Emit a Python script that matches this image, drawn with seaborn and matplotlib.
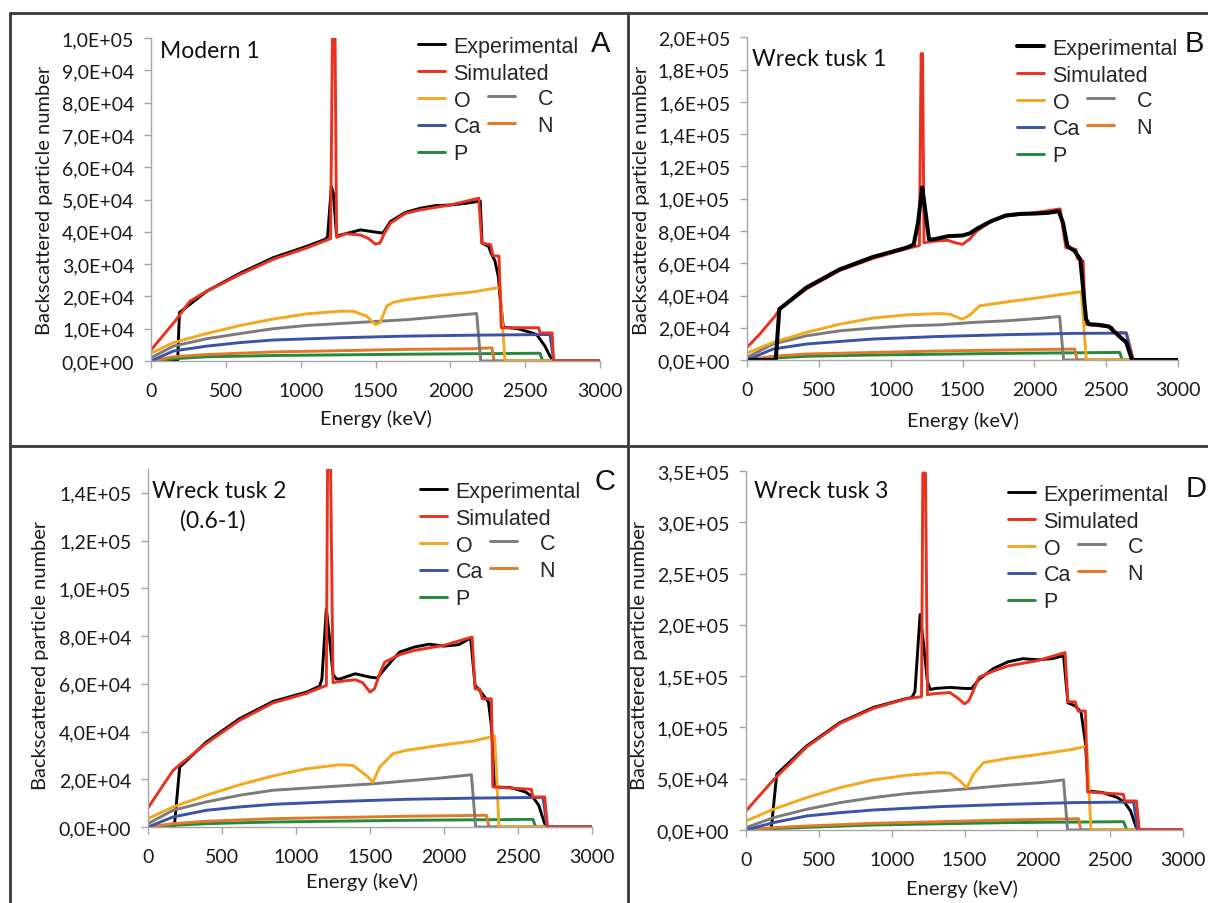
# RBS spectra of ivory samples: experimental vs simulated, with element contributions
# Four panels (A-D), Excel-like styling

import numpy as np
import seaborn as sns
import matplotlib.pyplot as plt
from matplotlib.lines import Line2D
from matplotlib.ticker import FuncFormatter, MultipleLocator


# Data (energy keV, backscattered counts) ........................................................

# Panel A - Modern 1
a_exp = [(0, 0), (178, 0), (190, 15000), (372, 21600), (595, 27200), (817, 32000), (1040, 35500),
         (1165, 37700), (1180, 38500), (1205, 54000), (1218, 52000), (1240, 38700), (1300, 39400),
         (1400, 40600), (1500, 39900), (1550, 39600), (1600, 43200), (1700, 46000), (1800, 47300),
         (1900, 48100), (2000, 48300), (2100, 48800), (2200, 49500), (2212, 36500), (2255, 35500),
         (2276, 33000), (2298, 31000), (2321, 26000), (2332, 20000), (2354, 10500), (2450, 10000),
         (2510, 9200), (2577, 8200), (2632, 4600), (2666, 1500), (2690, 0), (3000, 0)]
a_sim = [(0, 3400), (160, 12300), (260, 18500), (372, 21600), (595, 26800), (817, 31500),
         (1040, 35000), (1200, 37900), (1214, 110000), (1228, 110000), (1240, 38300), (1300, 39400),
         (1400, 39000), (1450, 38000), (1500, 36200), (1530, 36500), (1560, 39600), (1600, 42700),
         (1700, 45700), (1800, 46800), (2000, 48300), (2190, 50400), (2210, 36500), (2270, 36000),
         (2285, 32600), (2325, 32500), (2340, 10300), (2590, 10300), (2600, 8700), (2680, 8700),
         (2690, 0), (3000, 0)]
a_o = [(0, 2400), (150, 5700), (372, 8500), (595, 11000), (817, 13000), (1040, 14600), (1263, 15400),
       (1352, 15400), (1440, 13900), (1500, 11300), (1530, 11800), (1575, 17000), (1620, 18200),
       (1708, 19000), (1931, 20300), (2154, 21400), (2332, 22800), (2365, 0), (3000, 0)]
a_c = [(0, 1000), (150, 4600), (372, 6900), (595, 8500), (817, 10000), (1040, 11000), (1263, 11600),
       (1485, 12200), (1708, 12800), (1931, 13700), (2176, 14700), (2203, 0), (3000, 0)]
a_ca = [(0, 0), (150, 3100), (372, 4600), (595, 5700), (817, 6500), (1263, 7200), (1708, 7700),
        (2154, 8000), (2666, 8200), (2690, 0), (3000, 0)]
a_n = [(0, 0), (150, 1300), (372, 2000), (817, 2800), (1263, 3200), (1708, 3600), (2154, 3800),
       (2278, 4100), (2292, 0), (3000, 0)]
a_p = [(0, 0), (150, 700), (372, 1300), (817, 1700), (1708, 2100), (2599, 2400), (2617, 0), (3000, 0)]

# Panel B - Wreck tusk 1
b_exp = [(0, 0), (200, 0), (225, 31500), (413, 44900), (645, 56200), (877, 63900), (1109, 69600),
         (1160, 71500), (1190, 85000), (1220, 107000), (1245, 90000), (1267, 74800), (1300, 74800),
         (1400, 76800), (1500, 77200), (1550, 78500), (1600, 81400), (1700, 86100), (1800, 89600),
         (1900, 90600), (2000, 90800), (2100, 91300), (2170, 92300), (2200, 85000), (2230, 70700),
         (2280, 67600), (2320, 62400), (2340, 43900), (2360, 25300), (2380, 22200), (2450, 21800),
         (2520, 20800), (2550, 18100), (2600, 14000), (2640, 10900), (2680, 0), (3000, 0)]
b_sim = [(0, 7800), (88, 16000), (193, 27000), (227, 31500), (413, 44000), (645, 55500), (877, 63000),
         (1109, 69000), (1200, 71000), (1212, 190000), (1222, 190000), (1232, 72700), (1300, 73700),
         (1400, 74200), (1450, 72700), (1500, 71700), (1550, 75000), (1600, 80000), (1700, 86100),
         (1800, 89200), (2000, 91300), (2180, 93700), (2200, 81000), (2220, 69600), (2290, 68600),
         (2300, 62800), (2340, 61400), (2355, 22200), (2540, 20200), (2560, 17100), (2640, 16800),
         (2690, 0), (3000, 0)]
b_o = [(0, 4300), (181, 10900), (413, 17100), (645, 22200), (877, 26000), (1109, 28000), (1341, 28800),
       (1411, 28400), (1499, 25300), (1550, 27800), (1619, 33600), (1805, 36000), (2037, 38700),
       (2327, 42400), (2362, 0), (3000, 0)]
b_c = [(0, 1600), (181, 9900), (413, 15000), (645, 18100), (877, 19800), (1109, 21200), (1341, 21800),
       (1573, 23300), (1805, 24300), (2037, 25800), (2176, 27000), (2204, 0), (3000, 0)]
b_ca = [(0, 0), (181, 6800), (413, 9900), (645, 11500), (877, 13000), (1341, 14600), (1805, 15700),
        (2269, 16500), (2640, 16700), (2682, 0), (3000, 0)]
b_n = [(0, 0), (181, 2300), (413, 3700), (877, 4700), (1341, 5600), (1805, 6200), (2281, 6800),
       (2297, 0), (3000, 0)]
b_p = [(0, 0), (181, 1200), (413, 2300), (877, 3100), (1805, 4100), (2594, 4700), (2612, 0), (3000, 0)]

# Panel C - Wreck tusk 2 (0.6-1)
c_exp = [(0, 0), (175, 0), (182, 3000), (214, 25100), (394, 35600), (619, 45400), (845, 52600),
         (1070, 56500), (1160, 59000), (1175, 62000), (1205, 91400), (1225, 80000), (1250, 64000),
         (1273, 62000), (1300, 62100), (1400, 64200), (1500, 62800), (1550, 62400), (1600, 66300),
         (1700, 73300), (1800, 75400), (1900, 76600), (2000, 75800), (2100, 76400), (2180, 79200),
         (2210, 59300), (2250, 56500), (2300, 52400), (2320, 42600), (2345, 16800), (2450, 16500),
         (2550, 14700), (2600, 12600), (2640, 9100), (2680, 1400), (2700, 0), (3000, 0)]
c_sim = [(0, 8000), (169, 23700), (214, 26100), (394, 35000), (619, 44700), (845, 52000),
         (1070, 56000), (1205, 59300), (1214, 160000), (1232, 160000), (1250, 60500), (1300, 61000),
         (1400, 61700), (1450, 60500), (1500, 56500), (1530, 57900), (1570, 64900), (1600, 69100),
         (1700, 72200), (1800, 74000), (2000, 76100), (2190, 79600), (2210, 57900), (2240, 57900),
         (2260, 53700), (2320, 53700), (2330, 16800), (2590, 15800), (2600, 12600), (2680, 12600),
         (2700, 0), (3000, 0)]
c_o = [(0, 3500), (169, 8400), (394, 13300), (619, 17700), (845, 21400), (1070, 24400), (1295, 26100),
       (1385, 25800), (1475, 21600), (1520, 18800), (1565, 25100), (1655, 30700), (1745, 32100),
       (1970, 34200), (2196, 36000), (2342, 38100), (2372, 0), (3000, 0)]
c_c = [(0, 1400), (169, 7000), (394, 10500), (619, 13300), (845, 15400), (1070, 16300), (1295, 17200),
       (1520, 18100), (1745, 19300), (1970, 20500), (2185, 21900), (2214, 0), (3000, 0)]
c_ca = [(0, 0), (169, 4200), (394, 7000), (619, 8400), (845, 9500), (1295, 10700), (1745, 11600),
        (2196, 12100), (2669, 12400), (2696, 0), (3000, 0)]
c_n = [(0, 0), (169, 1400), (394, 2400), (845, 3500), (1295, 4000), (1745, 4500), (2286, 4900),
       (2304, 0), (3000, 0)]
c_p = [(0, 0), (169, 700), (394, 1400), (845, 2100), (1745, 2800), (2601, 3200), (2619, 0), (3000, 0)]

# Panel D - Wreck tusk 3
d_exp = [(0, 0), (170, 0), (176, 5000), (211, 54400), (417, 82000), (646, 104800), (875, 119500),
         (1104, 128300), (1138, 129000), (1160, 135000), (1195, 210000), (1220, 180000),
         (1245, 145000), (1264, 137000), (1300, 138000), (1400, 139000), (1500, 138000),
         (1550, 138000), (1600, 147000), (1700, 157500), (1800, 164000), (1900, 167000),
         (2000, 166000), (2100, 167000), (2180, 170000), (2210, 124000), (2260, 121000),
         (2300, 115000), (2330, 85000), (2350, 38000), (2450, 36500), (2550, 31600), (2600, 26700),
         (2640, 18600), (2680, 2000), (2700, 0), (3000, 0)]
d_sim = [(0, 18600), (188, 48800), (417, 81000), (646, 104000), (875, 118600), (1104, 128000),
         (1205, 130000), (1214, 348000), (1232, 348000), (1246, 132000), (1300, 133000),
         (1400, 134000), (1450, 129000), (1500, 123000), (1530, 126000), (1570, 139000),
         (1600, 149000), (1700, 155000), (1800, 160000), (2000, 165000), (2190, 173000),
         (2210, 125000), (2260, 125000), (2280, 116000), (2330, 116000), (2345, 37100),
         (2590, 34800), (2600, 28300), (2680, 28300), (2700, 0), (3000, 0)]
d_o = [(0, 8800), (188, 20200), (417, 31600), (646, 41300), (875, 48800), (1104, 53400), (1333, 56000),
       (1401, 55300), (1470, 47800), (1516, 41300), (1562, 54400), (1630, 65700), (1791, 69700),
       (2020, 73900), (2249, 78800), (2340, 82000), (2368, 0), (3000, 0)]
d_c = [(0, 2300), (188, 12000), (417, 20200), (646, 26700), (875, 31600), (1104, 35500), (1333, 38100),
       (1562, 40700), (1791, 43600), (2020, 46200), (2180, 48800), (2207, 0), (3000, 0)]
d_ca = [(0, 0), (188, 7200), (417, 13700), (646, 16900), (875, 19500), (1333, 22800), (1791, 25000),
        (2249, 26700), (2661, 27300), (2688, 0), (3000, 0)]
d_n = [(0, 0), (188, 2300), (417, 3900), (875, 6500), (1333, 8100), (1791, 9800), (2283, 11000),
       (2299, 0), (3000, 0)]
d_p = [(0, 0), (188, 1300), (417, 2600), (875, 4900), (1791, 7200), (2592, 8100), (2615, 0), (3000, 0)]

# Axis setup per panel
x_ticks = [0, 500, 1000, 1500, 2000, 2500, 3000]
y_max = {"A": 100000, "B": 200000, "C": 150000, "D": 350000}
y_step = {"A": 10000, "B": 20000, "C": 20000, "D": 50000}
titles = {"A": "Modern 1", "B": "Wreck tusk 1", "C": "Wreck tusk 2", "D": "Wreck tusk 3"}


# Style ...........................................................................................

sns.set_style("ticks")
plt.rcParams['font.family'] = ['Lato', 'DejaVu Sans']

col = {"Experimental": "#000000", "Simulated": "#e8321f", "O": "#f4a81e", "Ca": "#3c52a6",
       "P": "#23893b", "C": "#7b7b7b", "N": "#e07a28"}
LW = 2.1
W, H = 1208, 904


def fx(x):
    return x / W


def fy(y):
    return 1 - y / H


def draw_series(ax, pts, name, lw=LW):
    e = [p[0] for p in pts]
    v = [p[1] for p in pts]
    sns.lineplot(x=e, y=v, ax=ax, color=col[name], lw=lw, sort=False, estimator=None, legend=False)


def panel(rect, key, series, black_on_top=False):
    ax = fig.add_axes([fx(rect[0]), fy(rect[3]), fx(rect[1] - rect[0]), (rect[3] - rect[2]) / H])
    exp, sim, o, c, ca, n, p = series
    if black_on_top:
        draw_series(ax, sim, "Simulated")
    else:
        draw_series(ax, exp, "Experimental")
    draw_series(ax, p, "P")
    draw_series(ax, n, "N")
    draw_series(ax, c, "C")
    draw_series(ax, o, "O")
    draw_series(ax, ca, "Ca")
    if black_on_top:
        draw_series(ax, exp, "Experimental", lw=2.9)
    else:
        draw_series(ax, sim, "Simulated")
    ax.set_xlim(0, 3000)
    ax.set_xticks(x_ticks)
    ax.yaxis.set_major_locator(MultipleLocator(y_step[key]))
    ax.set_ylim(0, y_max[key])
    ax.yaxis.set_major_formatter(FuncFormatter(lambda v, _: f"{v:.1E}".replace(".", ",")))
    for s in ["top", "right"]:
        ax.spines[s].set_visible(False)
    for s in ["left", "bottom"]:
        ax.spines[s].set_color("#a6a6a6")
        ax.spines[s].set_linewidth(1.0)
    ax.tick_params(direction="out", length=5, width=1, color="#a6a6a6", labelsize=14,
                   labelcolor="#1a1a1a")
    ax.tick_params(axis="x", pad=10)
    ax.tick_params(axis="y", pad=7)
    ax.set_xlabel("")
    ax.set_ylabel("")
    ax.set_facecolor("none")
    return ax


def legends(ax, x, y, lw_black=LW):
    main = [Line2D([], [], color=col["Experimental"], lw=lw_black),
            Line2D([], [], color=col["Simulated"], lw=LW),
            Line2D([], [], color=col["O"], lw=LW),
            Line2D([], [], color=col["Ca"], lw=LW),
            Line2D([], [], color=col["P"], lw=LW)]
    leg1 = ax.legend(main, ["Experimental", "Simulated", "O", "Ca", "P"], loc="upper left",
                     bbox_to_anchor=(fx(x), fy(y)), bbox_transform=fig.transFigure,
                     frameon=False, borderpad=0, borderaxespad=0, handlelength=1.25,
                     handletextpad=0.4, labelspacing=0.27,
                     prop={"family": "Liberation Sans", "size": 15.5})
    ax.add_artist(leg1)
    extra = [Line2D([], [], color=col["C"], lw=LW), Line2D([], [], color=col["N"], lw=LW)]
    ax.legend(extra, ["C", "N"], loc="upper left",
              bbox_to_anchor=(fx(x + 70), fy(y + 52)), bbox_transform=fig.transFigure,
              frameon=False, borderpad=0, borderaxespad=0, handlelength=1.25,
              handletextpad=1.05, labelspacing=0.27,
              prop={"family": "Liberation Sans", "size": 15.5})


# Figure ..........................................................................................

fig = plt.figure(figsize=(W / 100, H / 100), dpi=100)

# panel rectangles in pixels: (x0, x3000, y_top, y_zero)
ax_a = panel((151, 600, 39, 362), "A", (a_exp, a_sim, a_o, a_c, a_ca, a_n, a_p))
ax_b = panel((747, 1178, 38.5, 361), "B", (b_exp, b_sim, b_o, b_c, b_ca, b_n, b_p), black_on_top=True)
ax_c = panel((148, 592, 470, 828), "C", (c_exp, c_sim, c_o, c_c, c_ca, c_n, c_p))
ax_d = panel((746, 1183, 472, 831), "D", (d_exp, d_sim, d_o, d_c, d_ca, d_n, d_p))

legends(ax_a, 418, 37)
legends(ax_b, 1017, 39, lw_black=2.9)
legends(ax_c, 420, 482)
legends(ax_d, 1008, 485)

# axis labels
lab = dict(fontsize=14.5, color="#1a1a1a", ha="center", va="center")
for x, y in [(45, 200), (641, 200), (41, 655), (639, 655)]:
    fig.text(fx(x), fy(y), "Backscattered particle number", rotation=90, **lab)
for x, y in [(376, 419), (963, 421), (362, 882), (962, 889)]:
    fig.text(fx(x), fy(y), "Energy (keV)", **lab)

# sample names
tt = dict(fontsize=16.5, color="#111111", va="center")
fig.text(fx(160), fy(51), titles["A"], ha="left", **tt)
fig.text(fx(752), fy(60), titles["B"], ha="left", **tt)
fig.text(fx(152), fy(492), titles["C"], ha="left", **tt)
fig.text(fx(213), fy(521), "(0.6-1)", ha="center", **tt)
fig.text(fx(754), fy(492), titles["D"], ha="left", **tt)

# panel letters
let = dict(fontsize=21, family="Liberation Sans", color="#111111", ha="center", va="center")
for x, y, s in [(601, 44, "A"), (1194, 44, "B"), (605, 482, "C"), (1196, 489, "D")]:
    fig.text(fx(x), fy(y), s, **let)

# frame and dividers
frame = dict(color="#3a3a3a", lw=2, transform=fig.transFigure)
fig.add_artist(Line2D([fx(10), 1], [fy(14), fy(14)], **frame))
fig.add_artist(Line2D([fx(10), fx(10)], [fy(14), 0], **frame))
fig.add_artist(Line2D([fx(628), fx(628)], [fy(14), 0], **frame))
fig.add_artist(Line2D([fx(10), 1], [fy(447), fy(447)], **frame))

fig.savefig("out.png", dpi=100)
